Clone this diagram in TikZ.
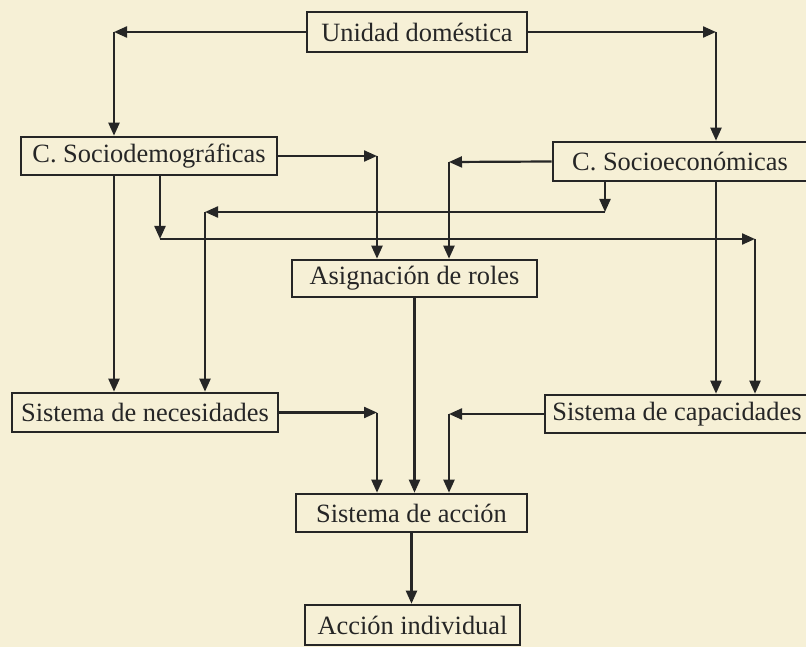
\documentclass[tikz,border=0pt]{standalone}
\usepackage{fontspec}
\setmainfont{Liberation Serif}
\usepackage{tikz}
\usetikzlibrary{arrows.meta}

\definecolor{paper}{HTML}{F6F0D6}
\definecolor{ink}{HTML}{262626}

\tikzset{
  box/.style={draw=ink, line width=2.6pt, inner sep=0pt, text=ink,
    font=\fontsize{26.4}{30}\selectfont},
  link/.style={draw=ink, line width=2.2pt, -{Triangle[length=13pt,width=11pt]}}
}

\begin{document}
\begin{tikzpicture}[x=1pt,y=-1pt]
        \fill[paper] (0,0) rectangle (806,647);
        \clip (0,0) rectangle (806,647);

        % Boxes
        \node[box, minimum width=220pt, minimum height=40pt] (ud) at (417,32) {Unidad doméstica};
        \node[box, minimum width=256pt, minimum height=38pt] (cs) at (149,156) {C. Sociodemográficas};
        \node[box, minimum width=254pt, minimum height=39pt] (ce) at (680,161.5) {C. Socioeconómicas};
        \node[box, minimum width=245pt, minimum height=37pt] (ar) at (414.5,278.5) {Asignación de roles};
        \node[box, minimum width=266pt, minimum height=39pt] (sn) at (145,412.5) {Sistema de necesidades};
        \node[box, minimum width=264pt, minimum height=38pt] (sc) at (677,414) {Sistema de capacidades};
        \node[box, minimum width=231pt, minimum height=38pt] (sa) at (411.5,513) {Sistema de acción};
        \node[box, minimum width=215pt, minimum height=40pt] (ai) at (412.5,625) {Acción individual};

        % Corners
        \coordinate (k1) at (114,32);
        \coordinate (k2) at (716,32);
        \coordinate (k3) at (377,156);
        \coordinate (k4) at (449,162);
        \coordinate (k5) at (605,212);
        \coordinate (k6) at (205,212);
        \coordinate (k7) at (160,239);
        \coordinate (k8) at (755,239);
        \coordinate (k9) at (377,412.5);
        \coordinate (k10) at (449,414);

        % Unidad domestica to both C. boxes
        \draw[link] (ud.west) -- (k1);
        \draw[link] (k1) -- (k1 |- cs.north);
        \draw[link] (ud.east) -- (k2);
        \draw[link] (k2) -- (k2 |- ce.north);

        % C. boxes to Asignacion de roles
        \draw[link] (cs.east) -- (k3);
        \draw[link] (k3) -- (k3 |- ar.north);
        \draw[link] (ce.west) -- (k4);
        \draw[link] (k4) -- (k4 |- ar.north);

        % C. boxes to the two Sistemas
        \draw[link] (k1 |- cs.south) -- (k1 |- sn.north);
        \draw[link] (k2 |- ce.south) -- (k2 |- sc.north);
        \draw[link] (k5 |- ce.south) -- (k5);
        \draw[link] (k5) -- (k6);
        \draw[link] (k6) -- (k6 |- sn.north);
        \draw[link] (k7 |- cs.south) -- (k7);
        \draw[link] (k7) -- (k8);
        \draw[link] (k8) -- (k8 |- sc.north);

        % Down to Sistema de accion
        \draw[link] (ar.south) -- (ar.south |- sa.north);
        \draw[link] (sn.east) -- (k9);
        \draw[link] (k9) -- (k9 |- sa.north);
        \draw[link] (sc.west) -- (k10);
        \draw[link] (k10) -- (k10 |- sa.north);
        \draw[link] (sa.south) -- (sa.south |- ai.north);
\end{tikzpicture}
\end{document}
